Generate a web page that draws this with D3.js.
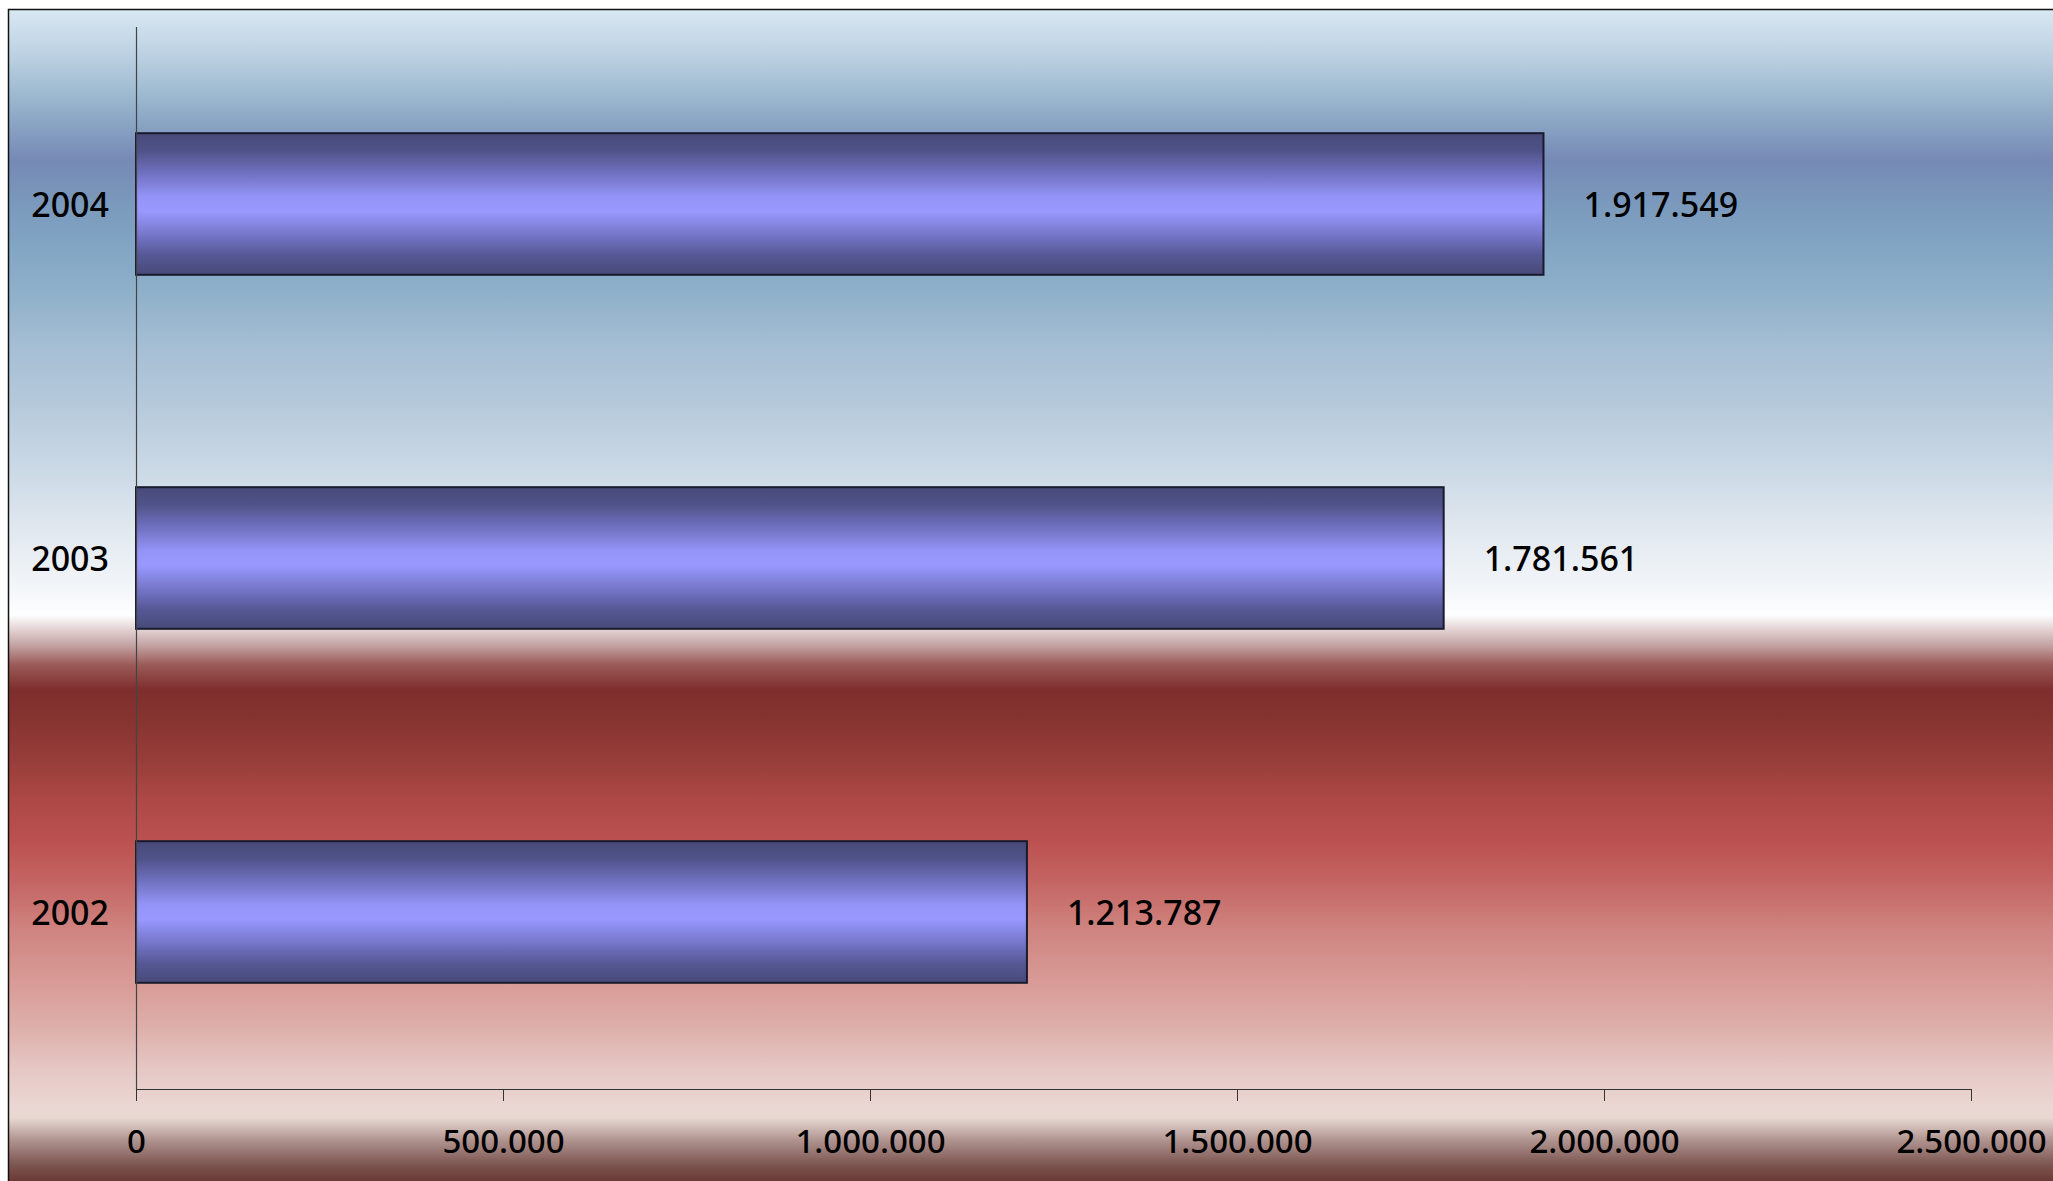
<!DOCTYPE html>
<html>
<head>
<meta charset="utf-8">
<script src="https://cdn.jsdelivr.net/npm/d3@7"></script>
<style>
	html, body { margin: 0; padding: 0; background: #fff; overflow: hidden; }
	text { font-family: "Noto Sans", "Open Sans", sans-serif; font-weight: 500; fill: #000; }
	.cat_label { font-size: 34px; }
	.val_label { font-size: 34px; }
	.x_axis text { font-size: 33px; }
</style>
</head>
<body>
<div id="chart"></div>
<script>
"use strict"

// chart data
const years = ["2004", "2003", "2002"];
const values = [1917549, 1781561, 1213787];
const xTicks = [0, 500000, 1000000, 1500000, 2000000, 2500000];

// background bands (y in px, colour)
const bgStops = [
	[9, "#d9e9f3"], [60, "#b9cee0"], [100, "#98b6ce"], [160, "#7589b5"],
	[200, "#7a98bb"], [250, "#82a6c4"], [300, "#92b2cb"], [350, "#a6bfd5"],
	[400, "#b4c8da"], [470, "#cbd9e6"], [530, "#e1e8ef"], [580, "#f0f4f8"],
	[615, "#fdfefe"], [625, "#ece0e0"], [645, "#c4a4a4"], [665, "#9a5a58"],
	[690, "#7e2e2c"], [730, "#8a3632"], [770, "#9c403c"], [800, "#ad4846"],
	[840, "#ba5150"], [880, "#c46462"], [930, "#cf8480"], [980, "#d89a96"],
	[1030, "#deb0ab"], [1070, "#e6c8c5"], [1105, "#ead6d2"], [1118, "#e8d8d2"],
	[1140, "#b09490"], [1165, "#7c5550"], [1181, "#6a3a35"]
];

const barStops = [
	[0, "#474a78"], [0.12, "#4f5288"], [0.3, "#7474c6"], [0.45, "#9494f8"],
	[0.55, "#9898ff"], [0.7, "#7a7ad0"], [0.86, "#565896"], [1, "#474a78"]
];

let data = years.map((y, i) => ({year: y, value: values[i]}));

let totalWidth = 2053,
	totalHeight = 1181;

let margin = {left: 136, right: 82, top: 27, bottom: 92};
let width = totalWidth - margin.left - margin.right;
let height = totalHeight - margin.top - margin.bottom;

let svg = d3.select("#chart").append("svg")
	.attr("width", totalWidth)
	.attr("height", totalHeight)
	.attr("shape-rendering", "geometricPrecision");

let defs = svg.append("defs");

let bgGrad = defs.append("linearGradient")
	.attr("id", "bgGrad")
	.attr("gradientUnits", "userSpaceOnUse")
	.attr("x1", 0).attr("x2", 0)
	.attr("y1", 9).attr("y2", totalHeight);
bgGrad.selectAll("stop")
	.data(bgStops)
	.enter().append("stop")
		.attr("offset", d => (d[0] - 9) / (totalHeight - 9))
		.attr("stop-color", d => d[1]);

let barGrad = defs.append("linearGradient")
	.attr("id", "barGrad")
	.attr("x1", 0).attr("x2", 0)
	.attr("y1", 0).attr("y2", 1);
barGrad.selectAll("stop")
	.data(barStops)
	.enter().append("stop")
		.attr("offset", d => d[0])
		.attr("stop-color", d => d[1]);

// chart area
svg.append("rect")
	.attr("x", 8.5)
	.attr("y", 9.5)
	.attr("width", totalWidth + 20)
	.attr("height", totalHeight + 20)
	.style("fill", "url(#bgGrad)")
	.style("stroke", "#111")
	.style("stroke-width", 1.5);

let g = svg.append("g")
	.attr("transform", "translate(" + margin.left + "," + margin.top + ")");

let xScale = d3.scaleLinear()
	.domain([0, 2500000])
	.range([0, 1835]);

let yScale = d3.scaleBand()
	.domain(years)
	.range([0, height])
	.paddingInner(0.6)
	.paddingOuter(0.3);

let fmt = d3.formatLocale({decimal: ",", thousands: ".", grouping: [3], currency: ["", ""]}).format(",d");

// bars
g.append("g").attr("class", "bars").selectAll("rect")
	.data(data)
	.enter().append("rect")
		.attr("x", 0)
		.attr("y", d => yScale(d.year))
		.attr("width", d => xScale(d.value))
		.attr("height", yScale.bandwidth())
		.style("fill", "url(#barGrad)")
		.style("stroke", "#1a1a2e")
		.style("stroke-width", 2);

// value labels
g.append("g").selectAll("text")
	.data(data)
	.enter().append("text")
		.attr("class", "val_label")
		.attr("x", d => xScale(d.value) + 40)
		.attr("y", d => yScale(d.year) + yScale.bandwidth() / 2)
		.attr("dy", "0.37em")
		.text(d => fmt(d.value));

// x axis
let xAxis = g.append("g")
	.attr("class", "x_axis")
	.attr("transform", "translate(0," + height + ")")
	.call(d3.axisBottom(xScale).tickValues(xTicks).tickSize(12).tickPadding(26).tickFormat(fmt));
xAxis.select(".domain").attr("d", "M0.5,0.5H" + (xScale(2500000) + 0.5)).style("stroke", "#333");
xAxis.selectAll(".tick line").style("stroke", "#333");
xAxis.selectAll("text").style("font-family", null).attr("dy", "0.78em");

// y axis
g.append("line")
	.attr("x1", 0.5).attr("x2", 0.5)
	.attr("y1", 0).attr("y2", height)
	.style("stroke", "#444")
	.style("stroke-width", 1.2);

g.append("g").selectAll("text")
	.data(years)
	.enter().append("text")
		.attr("class", "cat_label")
		.attr("x", -27)
		.attr("y", d => yScale(d) + yScale.bandwidth() / 2)
		.attr("dy", "0.37em")
		.attr("text-anchor", "end")
		.text(d => d);
</script>
</body>
</html>
